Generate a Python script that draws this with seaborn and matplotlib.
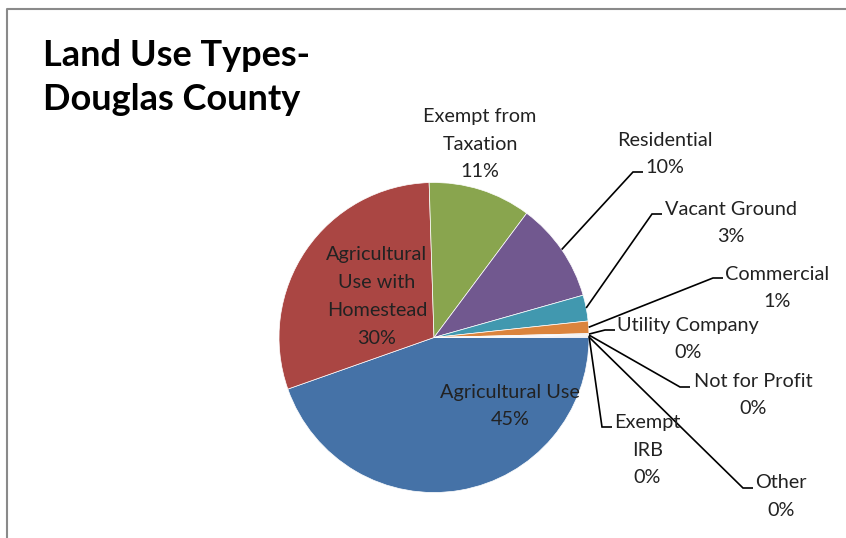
import matplotlib
matplotlib.use("Agg")
import matplotlib.pyplot as plt
import seaborn as sns
import numpy as np

# ---------------- data ----------------
categories = ["Agricultural Use", "Agricultural Use with Homestead", "Exempt from Taxation",
              "Residential", "Vacant Ground", "Commercial", "Utility Company",
              "Not for Profit", "Exempt IRB", "Other"]
shares = [44.6, 29.9, 10.7, 10.4, 2.7, 1.3, 0.1, 0.1, 0.1, 0.1]
label_names = ["Agricultural Use", "Agricultural\nUse with\nHomestead", "Exempt from\nTaxation",
               "Residential", "Vacant Ground", "Commercial", "Utility Company",
               "Not for Profit", "Exempt\nIRB", "Other"]
colors = ["#4572A7", "#AA4643", "#89A54E", "#71588F", "#4198AF", "#DB843D",
          "#93A9CF", "#D19392", "#B9CD96", "#A99BBD"]
title = "Land Use Types-\nDouglas County"

# ---------------- layout (pixels, y down) ----------------
W, H = 846, 538
CX, CY, R = 434, 337.5, 155
label_pos = [(510, 406), (377, 296.5), (480, 144), (665, 154), (731, 223),
             (777.5, 288), (688, 339), (753, 395), (647.5, 450), (781, 496.5)]
leader_elbow = [None, None, None, (633, 172), (652, 214), (713, 278),
                (605, 330), (680, 387), (602, 427), (743, 488)]
STUB = 10

sns.set_style("white")
plt.rcParams['font.family'] = ['Lato', 'DejaVu Sans']

fig = plt.figure(figsize=(W / 100, H / 100), dpi=100)
fig.patch.set_facecolor("white")
ax = fig.add_axes([0, 0, 1, 1])

palette = sns.color_palette(colors)
wedges, _ = ax.pie(shares, colors=palette, startangle=0, counterclock=True,
                   center=(CX, CY), radius=R,
                   wedgeprops=dict(edgecolor="white", linewidth=0.5))
ax.set_xlim(0, W)
ax.set_ylim(H, 0)
ax.set_aspect("auto")
ax.axis("off")

txt_color = "#222222"
for i, (w, name, v) in enumerate(zip(wedges, label_names, shares)):
    tx, ty = label_pos[i]
    ax.text(tx, ty, f"{name}\n{v:.0f}%", ha="center", va="center",
            fontsize=14.3, color=txt_color, linespacing=1.78)
    el = leader_elbow[i]
    if el is not None:
        th = np.deg2rad((w.theta1 + w.theta2) / 2)
        px, py = CX + R * np.cos(th), CY + R * np.sin(th)
        ax.plot([px, el[0], el[0] + STUB], [py, el[1], el[1]],
                color="black", lw=1.2, solid_capstyle="butt", solid_joinstyle="miter")

ax.text(43, 39, title, ha="left", va="top", fontsize=26, fontweight="bold",
        color="black", linespacing=1.42)

# chart area border (extends beyond the image on right/bottom)
ax.plot([7, 7, W + 5], [H + 5, 9, 9], color="#8a8a8a", lw=1.5, clip_on=False)

fig.savefig("out.png", dpi=100, facecolor="white")
